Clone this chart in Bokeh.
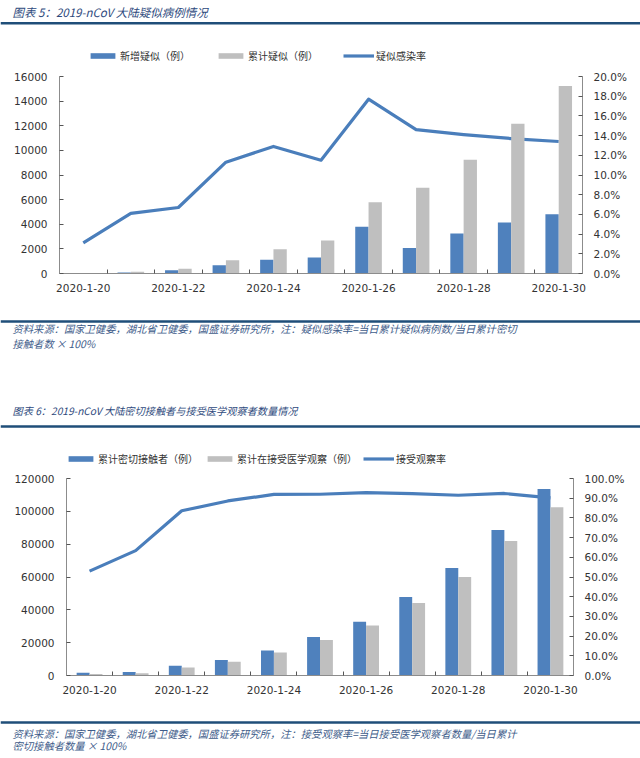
import numpy as np
from bokeh.plotting import figure
from bokeh.models import (Range1d, LinearAxis, FixedTicker, PrintfTickFormatter,
                          Legend, LegendItem, ColumnDataSource)
from bokeh.layouts import column
from bokeh.transform import dodge
from bokeh.embed import file_html
from bokeh.resources import INLINE
from bokeh.core.properties import value

# ---------------- data ----------------
dates = ["2020-1-20", "2020-1-21", "2020-1-22", "2020-1-23", "2020-1-24", "2020-1-25",
         "2020-1-26", "2020-1-27", "2020-1-28", "2020-1-29", "2020-1-30"]

# chart 5
new_suspected = [0, 80, 257, 680, 1118, 1309, 3806, 2077, 3248, 4148, 4812]
cum_suspected = [0, 135, 393, 1072, 1965, 2684, 5794, 6973, 9239, 12167, 15238]
suspect_rate = [3.1, 6.1, 6.7, 11.3, 12.9, 11.5, 17.7, 14.6, 14.1, 13.7, 13.4]

# chart 6
close_contacts = [1739, 2197, 5897, 9507, 15197, 23431, 32799, 47833, 65537, 88693, 113579]
under_observation = [922, 1394, 4928, 8420, 13967, 21556, 30453, 44132, 59990, 81947, 102427]
observe_rate = [53.0, 63.4, 83.6, 88.6, 91.9, 92.0, 92.8, 92.3, 91.5, 92.4, 90.2]

left_ticks_1 = [0, 2000, 4000, 6000, 8000, 10000, 12000, 14000, 16000]
right_ticks_1 = [0, 2, 4, 6, 8, 10, 12, 14, 16, 18, 20]
left_ticks_2 = [0, 20000, 40000, 60000, 80000, 100000, 120000]
right_ticks_2 = [0, 10, 20, 30, 40, 50, 60, 70, 80, 90, 100]
label_every = 2

legend_1 = ["新增疑似（例）", "累计疑似（例）", "疑似感染率"]
legend_2 = ["累计密切接触者（例）", "累计在接受医学观察（例）", "接受观察率"]

title_1 = "图表 5：2019-nCoV 大陆疑似病例情况"
title_2 = "图表 6：2019-nCoV 大陆密切接触者与接受医学观察者数量情况"
note_1 = ["资料来源：国家卫健委，湖北省卫健委，国盛证券研究所，注：疑似感染率=当日累计疑似病例数/当日累计密切",
          "接触者数 × 100%"]
note_2 = ["资料来源：国家卫健委，湖北省卫健委，国盛证券研究所，注：接受观察率=当日接受医学观察者数量/当日累计",
          "密切接触者数量 × 100%"]

# ---------------- style ----------------
W = 640
BLUE = "#4F81BD"
GRAY = "#BFBFBF"
LINE = "#4A7EBB"
RULE = "#1F4E79"
TITLE_C = "#2E4A7D"
NOTE_C = "#3E5C8A"
AXIS_C = "#8C8C8C"
TICK_FONT = "DejaVu Sans"
CJK = "Noto Sans CJK SC"


def text_fig(h):
    p = figure(width=W, height=h, x_range=Range1d(0, W), y_range=Range1d(h, 0),
               output_backend="svg", toolbar_location=None, min_border=0,
               x_axis_type=None, y_axis_type=None, frame_align=False)
    p.outline_line_color = None
    p.xgrid.visible = False
    p.ygrid.visible = False
    return p


def add_rule(p, y):
    p.segment(x0=[0], x1=[W], y0=[y], y1=[y], line_width=2.5, line_color=RULE)


def add_text(p, x, y, s, size, color):
    p.text(x=[x], y=[y], text=[s], text_font=value(CJK), text_font_style="italic",
           text_font_size=size, text_color=color, text_baseline="middle", text_align="left")


def add_legend(p, names, x, y, spacing, size):
    # legend proxies: one point each, placed outside the visible range
    off = ColumnDataSource(dict(x=[-1000, -999], y=[-1000, -1000]))
    ra = p.vbar(x="x", top="y", width=1, source=off, fill_color=BLUE, line_color=None)
    rb = p.vbar(x="x", top="y", width=1, source=off, fill_color=GRAY, line_color=None)
    rl = p.line(x="x", y="y", source=off, line_width=3.2, line_color=LINE)
    leg = Legend(items=[LegendItem(label=names[0], renderers=[ra], index=0),
                        LegendItem(label=names[1], renderers=[rb], index=0),
                        LegendItem(label=names[2], renderers=[rl])],
                 orientation="horizontal", location=(x, y),
                 glyph_width=31, glyph_height=7, label_standoff=2, spacing=spacing,
                 padding=0, margin=0, border_line_color=None, background_fill_alpha=0,
                 label_text_font=CJK, label_text_font_size=size,
                 label_text_color="#333333")
    p.add_layout(leg)


def make_chart(height, top, bottom, left, right, a_vals, b_vals, rates, lticks, rticks):
    n = len(dates)
    p = figure(width=W, height=height, output_backend="svg", toolbar_location=None,
               x_range=Range1d(-0.5, n - 0.5), y_range=Range1d(lticks[0], lticks[-1]),
               min_border_top=top, min_border_bottom=bottom,
               min_border_left=left, min_border_right=right, frame_align=False)
    p.extra_y_ranges = {"rate": Range1d(rticks[0], rticks[-1])}
    p.outline_line_color = None
    p.xgrid.visible = False
    p.ygrid.visible = False

    src = ColumnDataSource(dict(x=list(range(n)), a=a_vals, b=b_vals, r=rates))
    p.line("x", "r", source=src, y_range_name="rate", line_width=3.2,
           line_color=LINE, line_join="round")
    p.vbar(x=dodge("x", -0.14, range=p.x_range), top="a", width=0.28, source=src,
           fill_color=BLUE, line_color=None)
    p.vbar(x=dodge("x", 0.14, range=p.x_range), top="b", width=0.28, source=src,
           fill_color=GRAY, line_color=None)

    # x axis
    xa = p.xaxis[0]
    xa.ticker = FixedTicker(ticks=list(range(0, n, label_every)),
                            minor_ticks=[i + 0.5 for i in range(n - 1)])
    xa.major_label_overrides = {i: dates[i] for i in range(0, n, label_every)}
    xa.major_tick_in = 0
    xa.major_tick_out = 0
    xa.minor_tick_in = 4
    xa.minor_tick_out = 0
    xa.minor_tick_line_color = "#555555"
    xa.axis_line_color = AXIS_C
    xa.major_label_standoff = 10
    xa.major_label_text_font = TICK_FONT
    xa.major_label_text_font_size = "10.5px"
    xa.major_label_text_color = "#333333"

    # left axis
    ya = p.yaxis[0]
    ya.ticker = FixedTicker(ticks=lticks)
    ya.formatter = PrintfTickFormatter(format="%d")
    ya.major_tick_in = 4
    ya.major_tick_out = 0
    ya.minor_tick_line_color = None
    ya.axis_line_color = AXIS_C
    ya.major_tick_line_color = "#555555"
    ya.major_label_standoff = 12
    ya.major_label_text_font = TICK_FONT
    ya.major_label_text_font_size = "10.5px"
    ya.major_label_text_color = "#333333"

    # right axis
    ra = LinearAxis(y_range_name="rate", ticker=FixedTicker(ticks=rticks),
                    formatter=PrintfTickFormatter(format="%.1f%%"))
    ra.major_tick_in = 4
    ra.major_tick_out = 0
    ra.minor_tick_line_color = None
    ra.axis_line_color = AXIS_C
    ra.major_tick_line_color = "#555555"
    ra.major_label_standoff = 11
    ra.major_label_text_font = TICK_FONT
    ra.major_label_text_font_size = "10.5px"
    ra.major_label_text_color = "#333333"
    p.add_layout(ra, "right")
    return p


# header 1 (page y 0-66): title, rule, legend
h1 = text_fig(66)
add_text(h1, 12, 11, title_1, "11.5px", TITLE_C)
add_rule(h1, 22.7)
add_legend(h1, legend_1, 87, 3, 25, "10px")

# chart 1 (page y 66-305), frame 76..273, x 59..582
c1 = make_chart(239, 10, 32, 59, 58, new_suspected, cum_suspected, suspect_rate,
                left_ticks_1, right_ticks_1)

# middle (page y 305-468): note 1, title 2, rule, legend 2
m = text_fig(163)
add_rule(m, 16)
add_text(m, 12, 23.3, note_1[0], "10.3px", NOTE_C)
add_text(m, 12, 38.3, note_1[1], "10.3px", NOTE_C)
add_text(m, 12, 105, title_2, "10.2px", TITLE_C)
add_rule(m, 121)
add_legend(m, legend_2, 65, 2, 6, "10px")

# chart 2 (page y 468-708), frame 478..675, x 66..573
c2 = make_chart(240, 10, 33, 66, 67, close_contacts, under_observation, observe_rate,
                left_ticks_2, right_ticks_2)

# footer (page y 708-756)
f = text_fig(48)
add_rule(f, 14)
add_text(f, 12, 24.7, note_2[0], "10.3px", NOTE_C)
add_text(f, 12, 37, note_2[1], "10.3px", NOTE_C)

page = column(h1, c1, m, c2, f, spacing=0)
open("out.html", "w").write(file_html(page, INLINE))
